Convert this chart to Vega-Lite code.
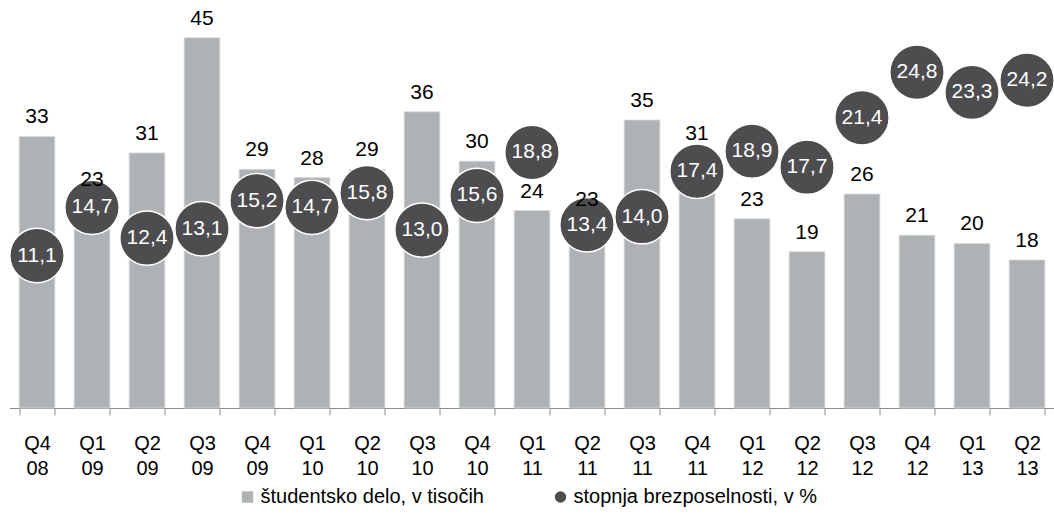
{
  "$schema": "https://vega.github.io/schema/vega-lite/v6.json",
  "width": 1045,
  "height": 408,
  "autosize": "none",
  "padding": {"left": 9.5, "top": 0, "right": 0, "bottom": 111},
  "config": {
    "view": {"stroke": null},
    "font": "Liberation Sans",
    "locale": {"number": {"decimal": ",", "thousands": ".", "grouping": [3], "currency": ["", " €"]}}
  },
  "data": {
    "values": [
      {"q": "Q4 08", "s": 33, "u": 11.1},
      {"q": "Q1 09", "s": 23, "u": 14.7},
      {"q": "Q2 09", "s": 31, "u": 12.4},
      {"q": "Q3 09", "s": 45, "u": 13.1},
      {"q": "Q4 09", "s": 29, "u": 15.2},
      {"q": "Q1 10", "s": 28, "u": 14.7},
      {"q": "Q2 10", "s": 29, "u": 15.8},
      {"q": "Q3 10", "s": 36, "u": 13.0},
      {"q": "Q4 10", "s": 30, "u": 15.6},
      {"q": "Q1 11", "s": 24, "u": 18.8},
      {"q": "Q2 11", "s": 23, "u": 13.4},
      {"q": "Q3 11", "s": 35, "u": 14.0},
      {"q": "Q4 11", "s": 31, "u": 17.4},
      {"q": "Q1 12", "s": 23, "u": 18.9},
      {"q": "Q2 12", "s": 19, "u": 17.7},
      {"q": "Q3 12", "s": 26, "u": 21.4},
      {"q": "Q4 12", "s": 21, "u": 24.8},
      {"q": "Q1 13", "s": 20, "u": 23.3},
      {"q": "Q2 13", "s": 18, "u": 24.2}
    ]
  },
  "encoding": {
    "x": {
      "field": "q",
      "type": "nominal",
      "sort": null,
      "scale": {"paddingInner": 0.35, "paddingOuter": 0.175},
      "axis": {
        "title": null,
        "labelAngle": 0,
        "labelExpr": "isValid(datum.value) ? split(datum.value, ' ') : ''",
        "labelFontSize": 20,
        "labelColor": "black",
        "labelLineHeight": 25,
        "labelPadding": 18,
        "domainColor": "#8c8c8c",
        "tickColor": "#8c8c8c",
        "tickSize": 7,
        "tickBand": "extent",
        "grid": false
      }
    }
  },
  "layer": [
    {
      "mark": {"type": "bar", "stroke": "#d8dadc", "strokeWidth": 0.8},
      "encoding": {
        "y": {"field": "s", "type": "quantitative", "scale": {"domain": [0, 49.58], "nice": false}, "axis": null},
        "color": {
          "datum": "študentsko delo, v tisočih",
          "type": "nominal",
          "scale": {"domain": ["študentsko delo, v tisočih", "stopnja brezposelnosti, v %"], "range": ["#afb2b5", "#4d4d4f"]},
          "legend": {
            "title": null,
            "orient": "none",
            "legendX": 228,
            "legendY": 487,
            "direction": "horizontal",
            "labelFontSize": 20,
            "labelColor": "black",
            "labelOffset": 3,
            "labelLimit": 500,
            "symbolSize": 130,
            "symbolStrokeWidth": 0,
            "columnPadding": 66
          }
        }
      }
    },
    {
      "mark": {"type": "point", "filled": true, "opacity": 1, "stroke": "white", "strokeWidth": 1.5, "size": 2950},
      "encoding": {
        "y": {"field": "u", "type": "quantitative", "scale": {"domain": [-0.3, 30.2], "nice": false, "zero": false}, "axis": null},
        "color": {"datum": "stopnja brezposelnosti, v %", "type": "nominal"},
        "shape": {
          "datum": "stopnja brezposelnosti, v %",
          "type": "nominal",
          "scale": {"domain": ["študentsko delo, v tisočih", "stopnja brezposelnosti, v %"], "range": ["square", "circle"]},
          "legend": {
            "title": null,
            "orient": "none",
            "legendX": 228,
            "legendY": 487,
            "direction": "horizontal",
            "labelFontSize": 20,
            "labelColor": "black",
            "labelOffset": 3,
            "labelLimit": 500,
            "symbolSize": 130,
            "symbolStrokeWidth": 0,
            "columnPadding": 66
          }
        }
      }
    },
    {
      "mark": {"type": "text", "color": "white", "fontSize": 21, "baseline": "middle", "dy": 0},
      "encoding": {
        "y": {"field": "u", "type": "quantitative", "scale": {"domain": [-0.3, 30.2], "nice": false, "zero": false}, "axis": null},
        "text": {"field": "u", "type": "quantitative", "format": ".1f"}
      }
    },
    {
      "transform": [{"filter": "datum.q !== 'Q1 09'"}],
      "mark": {"type": "text", "color": "black", "fontSize": 21, "baseline": "alphabetic", "dy": -13},
      "encoding": {
        "y": {"field": "s", "type": "quantitative", "scale": {"domain": [0, 49.58], "nice": false}, "axis": null},
        "text": {"field": "s", "type": "quantitative"}
      }
    },
    {
      "transform": [{"filter": "datum.q === 'Q1 09'"}],
      "mark": {"type": "text", "color": "black", "fontSize": 21, "baseline": "alphabetic", "dy": -33},
      "encoding": {
        "y": {"field": "s", "type": "quantitative", "scale": {"domain": [0, 49.58], "nice": false}, "axis": null},
        "text": {"field": "s", "type": "quantitative"}
      }
    }
  ],
  "resolve": {"scale": {"y": "independent"}}
}
